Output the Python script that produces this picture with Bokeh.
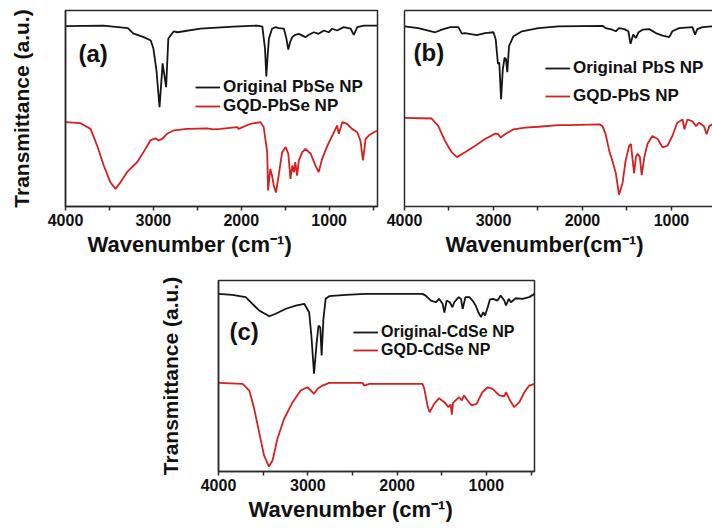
from bokeh.plotting import figure
from bokeh.models import Range1d, FixedTicker, Label, Legend, LegendItem, LinearAxis, Spacer, Title
from bokeh.layouts import column, row
from bokeh.embed import file_html
from bokeh.resources import INLINE

FONT = "Liberation Sans"
BLACK = "#151515"
RED = "#d42020"
FRAME = "#2a2a2a"

# ---------------- data (wavenumber cm^-1, transmittance a.u.) ----------------
a_orig_wn = [4000, 3570, 3290, 3230, 3110, 3030, 3000, 2965, 2930, 2895, 2855, 2830, 2770, 2725, 2465, 2090,
             1815, 1760, 1730, 1715, 1700, 1685, 1650, 1610, 1575, 1515, 1490, 1465, 1445, 1420, 1385, 1345,
             1305, 1270, 1230, 1175, 1120, 1060, 1005, 965, 910, 835, 755, 720, 680, 605, 450]
a_orig_t = [92.0, 92.3, 91.0, 88.3, 86.4, 84.7, 80.6, 69.4, 50.7, 73.0, 60.9, 85.7, 89.3, 88.9, 90.8, 91.8,
            92.3, 91.8, 80.6, 66.3, 77.0, 85.7, 90.7, 91.5, 91.0, 90.7, 86.4, 80.1, 83.8, 86.4, 87.6, 88.1,
            87.2, 86.4, 87.6, 88.9, 88.1, 89.8, 88.9, 90.7, 89.8, 91.5, 90.7, 87.6, 91.5, 92.3, 92.3]
a_gqd_wn = [4000, 3830, 3715, 3640, 3565, 3490, 3430, 3375, 3300, 3185, 3090, 3035, 2975, 2940, 2900, 2845,
            2770, 2615, 2390, 2315, 2235, 2045, 2030, 1895, 1780, 1745, 1705, 1695, 1670, 1650, 1630, 1605,
            1575, 1535, 1495, 1465, 1440, 1420, 1400, 1385, 1365, 1345, 1305, 1270, 1210, 1155, 1120, 1080,
            1020, 945, 910, 890, 850, 795, 740, 680, 645, 615, 585, 550, 490, 450]
a_gqd_t = [43.0, 42.5, 39.6, 31.1, 20.9, 12.4, 9.0, 12.4, 17.5, 22.6, 29.4, 33.7, 34.8, 33.7, 34.5, 37.1,
           38.8, 39.6, 39.9, 39.3, 39.6, 40.5, 39.6, 42.2, 43.0, 40.5, 27.7, 8.2, 19.2, 15.8, 10.7, 7.1,
           15.8, 27.7, 30.3, 26.9, 14.1, 20.9, 17.5, 22.6, 15.8, 23.5, 27.7, 29.4, 26.9, 20.9, 17.5, 24.3,
           31.1, 37.9, 41.3, 37.1, 43.0, 42.2, 39.6, 37.9, 33.7, 23.5, 34.5, 36.2, 37.9, 38.8]

b_orig_wn = [4000, 3845, 3655, 3580, 3485, 3395, 3355, 3320, 3190, 3095, 3000, 2975, 2950, 2935, 2915, 2895,
             2875, 2860, 2845, 2825, 2775, 2680, 2495, 2270, 1775, 1740, 1665, 1625, 1590, 1530, 1485, 1460,
             1430, 1400, 1370, 1325, 1250, 1175, 1100, 1025, 990, 915, 765, 735, 710, 650, 539]
b_orig_t = [91.9, 91.0, 88.9, 90.2, 91.5, 91.5, 88.2, 88.5, 87.4, 88.5, 88.9, 85.2, 72.7, 73.5, 54.8, 70.2,
            76.0, 75.2, 68.5, 81.9, 86.9, 89.4, 91.0, 91.9, 92.2, 91.0, 90.2, 89.4, 91.0, 90.5, 89.4, 83.0,
            87.7, 86.0, 88.9, 90.2, 90.5, 88.5, 87.2, 86.4, 89.4, 91.0, 91.5, 87.7, 90.5, 91.5, 91.9]
b_gqd_wn = [4000, 3695, 3620, 3545, 3470, 3410, 3320, 3205, 3095, 2980, 2945, 2920, 2870, 2775, 2645, 2495,
            2270, 2150, 1810, 1775, 1740, 1700, 1665, 1625, 1590, 1550, 1515, 1475, 1455, 1440, 1420, 1400,
            1380, 1355, 1335, 1305, 1270, 1215, 1155, 1100, 1045, 990, 935, 875, 855, 820, 765, 725, 690,
            635, 605, 575, 539]
b_gqd_t = [45.2, 44.9, 41.0, 33.5, 27.7, 25.2, 27.7, 31.0, 34.4, 37.2, 36.9, 35.2, 36.9, 39.4, 40.2, 40.7,
           41.5, 41.5, 41.9, 41.0, 36.9, 28.5, 23.5, 16.9, 6.0, 11.9, 23.5, 31.0, 31.9, 25.2, 16.9, 25.2,
           26.9, 25.2, 16.0, 25.2, 31.9, 36.0, 34.4, 30.2, 31.0, 36.0, 42.7, 44.4, 39.4, 44.4, 43.5, 41.0,
           42.7, 41.0, 36.9, 41.0, 41.9]

c_orig_wn = [4000, 3845, 3695, 3620, 3545, 3430, 3360, 3245, 3135, 3040, 2985, 2960, 2930, 2900, 2880, 2860,
             2845, 2825, 2800, 2760, 2575, 2350, 1715, 1680, 1620, 1565, 1530, 1490, 1470, 1445, 1410, 1380,
             1360, 1310, 1285, 1265, 1235, 1190, 1155, 1120, 1090, 1060, 1035, 1015, 985, 960, 925, 875, 840,
             800, 780, 750, 725, 670, 595, 520, 461]
c_orig_t = [93.0, 92.5, 91.3, 87.8, 84.3, 81.3, 82.6, 85.2, 86.9, 87.8, 83.4, 71.2, 51.2, 67.7, 76.4, 75.4,
            60.7, 79.9, 90.4, 91.8, 92.5, 93.0, 93.0, 92.1, 89.5, 88.6, 90.4, 87.8, 83.2, 89.5, 88.6, 86.0,
            88.6, 91.3, 90.4, 85.2, 91.3, 91.3, 89.5, 86.9, 83.4, 80.8, 83.4, 81.7, 86.0, 90.1, 90.4, 89.5,
            92.1, 89.5, 86.9, 90.4, 88.6, 90.7, 90.4, 91.3, 93.0]
c_gqd_wn = [4000, 3730, 3655, 3600, 3545, 3490, 3435, 3395, 3340, 3265, 3170, 3080, 3005, 2965, 2930, 2890,
            2835, 2760, 2385, 2370, 2310, 1715, 1695, 1660, 1635, 1585, 1530, 1470, 1425, 1400, 1387, 1372,
            1305, 1275, 1250, 1210, 1165, 1110, 1045, 985, 930, 855, 800, 780, 745, 690, 630, 575, 520, 461]
c_gqd_t = [46.4, 45.9, 42.4, 32.8, 20.6, 8.4, 2.6, 5.8, 17.1, 27.6, 36.3, 42.4, 44.1, 42.4, 40.7, 43.3,
           45.0, 46.4, 46.4, 45.0, 45.9, 45.9, 43.3, 34.6, 31.0, 35.4, 38.4, 36.3, 33.7, 35.1, 29.8, 36.1,
           38.9, 37.2, 39.8, 37.2, 34.6, 35.4, 41.5, 44.1, 43.3, 39.8, 39.4, 41.5, 38.1, 33.7, 36.3, 41.5,
           45.0, 45.9]

major_ticks = [4000, 3000, 2000, 1000]
minor_ticks = [3500, 2500, 1500, 500]
tick_labels = {4000: "4000", 3000: "3000", 2000: "2000", 1000: "1000"}


def make_panel(width, height, x_end, borders, outline, ylabel, ylabel_standoff=33):
    left, right, top, bottom = borders
    p = figure(width=width, height=height, x_range=Range1d(4000, x_end), y_range=Range1d(0, 100),
               output_backend="svg", toolbar_location=None, min_border_left=left,
               min_border_right=right, min_border_top=top, min_border_bottom=bottom)
    p.background_fill_color = "white"
    p.border_fill_color = "white"
    p.xgrid.visible = False
    p.ygrid.visible = False
    if outline:
        p.outline_line_color = FRAME
        p.outline_line_width = 1.5
    else:
        p.outline_line_color = None
    xa = p.xaxis[0]
    xa.ticker = FixedTicker(ticks=major_ticks, minor_ticks=minor_ticks)
    xa.major_label_overrides = tick_labels
    xa.axis_line_color = FRAME
    xa.axis_line_width = 1.5
    xa.major_tick_line_color = FRAME
    xa.major_tick_line_width = 1.5
    xa.minor_tick_line_color = FRAME
    xa.minor_tick_line_width = 1.5
    xa.major_tick_in = 0
    xa.major_tick_out = 4
    xa.minor_tick_in = 0
    xa.minor_tick_out = 4
    xa.major_label_standoff = 3
    xa.major_label_text_font = FONT
    xa.major_label_text_font_size = "16px"
    xa.major_label_text_font_style = "bold"
    xa.major_label_text_color = "#111111"
    ya = p.yaxis[0]
    ya.ticker = FixedTicker(ticks=[])
    ya.axis_line_color = FRAME
    ya.axis_line_width = 1.5
    ya.major_tick_in = 0
    ya.major_tick_out = 0
    ya.minor_tick_in = 0
    ya.minor_tick_out = 0
    ya.major_label_standoff = 0
    if ylabel:
        ya.axis_label = ylabel
        ya.axis_label_text_font = FONT
        ya.axis_label_text_font_size = "21px"
        ya.axis_label_text_font_style = "bold"
        ya.axis_label_text_color = "#111111"
        ya.axis_label_standoff = ylabel_standoff
    return p


def add_legend(p, renderer, text, x, y, size="17px"):
    leg = Legend(items=[LegendItem(label=text, renderers=[renderer])], location=(x, y),
                 padding=0, margin=0, spacing=0, label_standoff=3, glyph_width=25,
                 glyph_height=18, label_height=18, border_line_color=None,
                 background_fill_alpha=0, label_text_font=FONT, label_text_font_size=size,
                 label_text_font_style="bold", label_text_color="#111111")
    p.add_layout(leg)


def add_tag(p, x, y, text):
    p.add_layout(Label(x=x, y=y, x_units="screen", y_units="screen", text=text,
                       text_font=FONT, text_font_size="24px", text_font_style="bold",
                       text_color="#111111", text_align="left", text_baseline="middle"))


def add_xtitle(p, text, offset, standoff):
    p.add_layout(Title(text=text, align="left", offset=offset, standoff=standoff,
                       text_font=FONT, text_font_size="22px", text_font_style="bold",
                       text_color="#111111"), "below")


# ---------------- panel (a) ----------------
fa = make_panel(385, 268, 450, (65, 8, 10, 62), True, "Transmittance (a.u.)", 33)
ra1 = fa.line(a_orig_wn, a_orig_t, line_color=BLACK, line_width=1.8)
ra2 = fa.line(a_gqd_wn, a_gqd_t, line_color=RED, line_width=1.8)
add_legend(fa, ra1, "Original PbSe NP", 130, 109)
add_legend(fa, ra2, "GQD-PbSe NP", 130, 90)
add_tag(fa, 13, 153.5, "(a)")
add_xtitle(fa, "Wavenumber (cm\u207b\u00b9)", 22, 3)

# ---------------- panel (b) ----------------
fb = make_panel(327, 268, 539, (19, 0, 7, 61), False, None)
top_axis = LinearAxis(ticker=FixedTicker(ticks=[]), axis_line_color=FRAME, axis_line_width=1.5,
                      major_tick_in=0, major_tick_out=0, minor_tick_in=0, minor_tick_out=0,
                      major_label_standoff=0)
fb.add_layout(top_axis, "above")
rb1 = fb.line(b_orig_wn, b_orig_t, line_color=BLACK, line_width=1.8)
rb2 = fb.line(b_gqd_wn, b_gqd_t, line_color=RED, line_width=1.8)
add_legend(fb, rb1, "Original PbS NP", 141, 128)
add_legend(fb, rb2, "GQD-PbS NP", 141, 99.7)
add_tag(fb, 9, 154.5, "(b)")
add_xtitle(fb, "Wavenumber(cm\u207b\u00b9)", 41, 3)

# ---------------- panel (c) ----------------
fc = make_panel(404, 261, 461, (68, 20, 12, 58), True, "Transmittance (a.u.)", 37)
rc1 = fc.line(c_orig_wn, c_orig_t, line_color=BLACK, line_width=1.8)
rc2 = fc.line(c_gqd_wn, c_gqd_t, line_color=RED, line_width=1.8)
add_legend(fc, rc1, "Original-CdSe NP", 135, 130, "16px")
add_legend(fc, rc2, "GQD-CdSe NP", 135, 112, "16px")
add_tag(fc, 11, 140, "(c)")
add_xtitle(fc, "Wavenumber (cm\u207b\u00b9)", 30, 3)

layout = column(row(fa, fb), row(Spacer(width=150, height=261), fc))

open("out.html", "w").write(file_html(layout, INLINE))
